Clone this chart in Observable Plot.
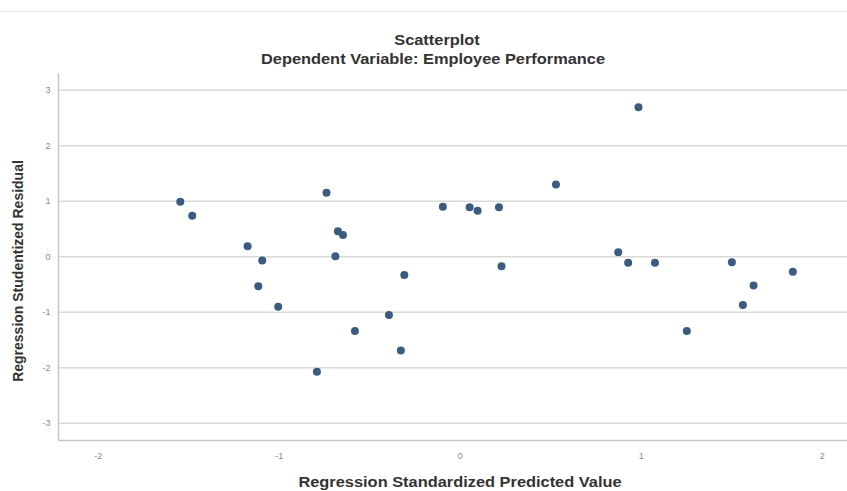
<!DOCTYPE html>
<html>
<head>
<meta charset="utf-8">
<script src="https://cdn.jsdelivr.net/npm/d3@7"></script>
<script src="https://cdn.jsdelivr.net/npm/@observablehq/plot@0.6"></script>
<style>
  html, body { margin: 0; padding: 0; background: #fff; }
  #wrap { position: relative; width: 847px; height: 491px; overflow: hidden; font-family: "Liberation Sans", Arial, sans-serif; }
  .t { position: absolute; white-space: nowrap; font-weight: bold; color: #333; font-size: 14px; transform: translate(-50%, -50%) scaleX(1.17); }
  #topline { position: absolute; left: 0; top: 11px; width: 847px; height: 1px; background: #e2e2e2; }
  #ylab { position: absolute; left: 18px; top: 271px; transform: translate(-50%, -50%) rotate(-90deg); white-space: nowrap; font-weight: bold; color: #333; font-size: 14px; }
</style>
</head>
<body>
<div id="wrap">
  <div id="topline"></div>
  <div class="t" style="left:437px; top:40px">Scatterplot</div>
  <div class="t" style="left:433px; top:59px">Dependent Variable: Employee Performance</div>
  <div id="chart"></div>
  <div id="ylab">Regression Studentized Residual</div>
  <div class="t" style="left:460px; top:482px">Regression Standardized Predicted Value</div>
</div>
<script>
const predicted = [
  -1.547, -1.481, -1.175, -1.094, -1.116, -1.006, -0.739, -0.676, -0.648, -0.690,
  -0.792, -0.582, -0.394, -0.328, -0.309, -0.096, 0.052, 0.096, 0.214, 0.228,
  0.529, 0.985, 0.873, 0.928, 1.076, 1.252, 1.501, 1.621, 1.562, 1.838
];
const residual = [
  0.99, 0.74, 0.19, -0.07, -0.53, -0.90, 1.15, 0.46, 0.39, 0.01,
  -2.07, -1.34, -1.05, -1.69, -0.33, 0.90, 0.89, 0.83, 0.89, -0.17,
  1.30, 2.69, 0.08, -0.11, -0.11, -1.34, -0.10, -0.52, -0.87, -0.27
];
const xTicks = [-2, -1, 0, 1, 2];
const yTicks = [-3, -2, -1, 0, 1, 2, 3];

const data = predicted.map((p, i) => ({x: p, y: residual[i]}));

const chart = Plot.plot({
  width: 847,
  height: 491,
  marginTop: 73,
  marginBottom: 51,
  marginLeft: 58,
  marginRight: 0,
  style: {fontFamily: "'Liberation Sans', Arial, sans-serif", background: "#fff", overflow: "visible"},
  x: {domain: [-2.22, 2.14], label: null},
  y: {domain: [-3.31, 3.3], label: null},
  marks: [
    Plot.ruleY(yTicks, {stroke: "#dadada", strokeWidth: 1.5}),
    Plot.ruleX([-2.22], {stroke: "#c8c8c8", strokeWidth: 1.5}),
    Plot.ruleY([-3.31], {stroke: "#c8c8c8", strokeWidth: 1.5, x1: -2.22, x2: 2.14}),
    Plot.axisX(xTicks, {tickSize: 0, tickPadding: 12, fontSize: 9, fill: "#888", tickFormat: d => String(d), label: null}),
    Plot.axisY(yTicks, {tickSize: 0, tickPadding: 8, fontSize: 9, fill: "#888", tickFormat: d => String(d), label: null}),
    Plot.dot(data, {x: "x", y: "y", r: 4, fill: "#3c5b80", stroke: "none"})
  ]
});
document.getElementById("chart").appendChild(chart);
</script>
</body>
</html>
